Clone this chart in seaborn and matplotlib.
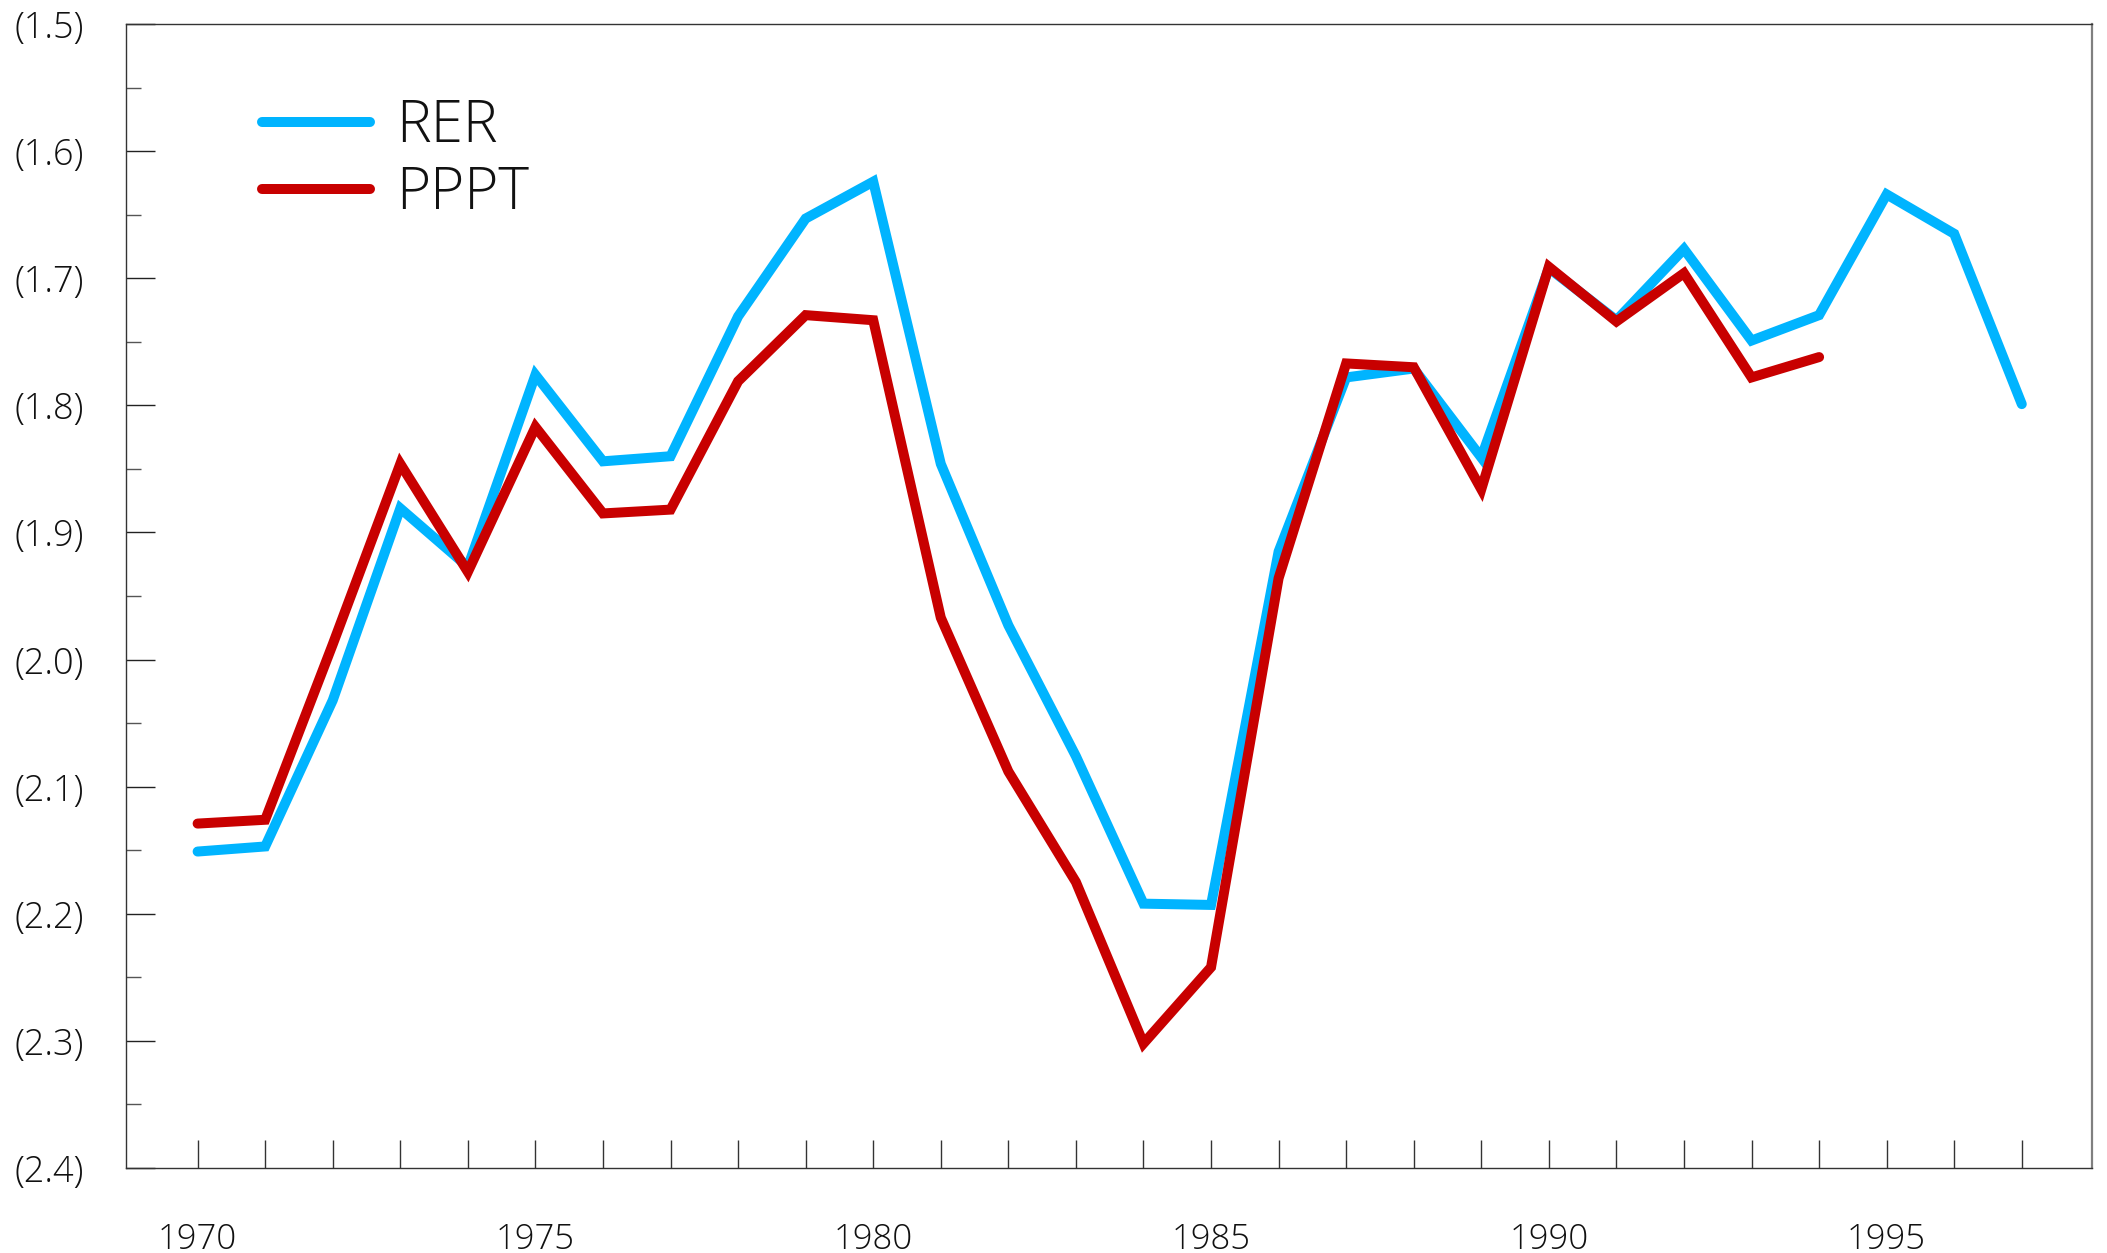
import pandas as pd
import seaborn as sns
import matplotlib.pyplot as plt
from matplotlib.ticker import FixedLocator, MultipleLocator, FuncFormatter

# data (values are negative; shown in parentheses)
years_rer = list(range(1970, 1998))
rer = [-2.151, -2.147, -2.032, -1.881, -1.927, -1.776, -1.844, -1.840, -1.730, -1.653,
       -1.624, -1.846, -1.973, -2.076, -2.192, -2.193, -1.915, -1.778, -1.771, -1.841,
       -1.692, -1.733, -1.677, -1.749, -1.729, -1.634, -1.665, -1.799]

years_pppt = list(range(1970, 1995))
pppt = [-2.129, -2.126, -1.988, -1.846, -1.931, -1.817, -1.885, -1.882, -1.781, -1.729,
        -1.733, -1.967, -2.088, -2.175, -2.302, -2.242, -1.936, -1.767, -1.770, -1.866,
        -1.691, -1.734, -1.696, -1.778, -1.762]

series_names = ["RER", "PPPT"]
series_colors = ["#00B4FF", "#C80000"]
x_ticks = list(range(1970, 1998))

df = pd.concat([
    pd.DataFrame({"year": years_rer, "value": rer, "series": "RER"}),
    pd.DataFrame({"year": years_pppt, "value": pppt, "series": "PPPT"}),
])

sns.set_style("ticks")
plt.rcParams["font.family"] = ["Open Sans", "DejaVu Sans"]
plt.rcParams["font.weight"] = "light"

fig = plt.figure(figsize=(21.07, 12.53), dpi=100)
ax = fig.add_axes([0.0598, 0.0678, 0.9331, 0.913])

sns.lineplot(data=df, x="year", y="value", hue="series", hue_order=series_names,
             palette=series_colors, linewidth=7.2, ax=ax, sort=False)
for line in ax.get_lines():
    line.set_solid_capstyle("round")
    line.set_solid_joinstyle("miter")

ax.set_xlim(1968.94, 1998.04)
ax.set_ylim(-2.4, -1.5)

ax.xaxis.set_major_locator(FixedLocator(x_ticks))
ax.xaxis.set_major_formatter(FuncFormatter(lambda v, p: f"{int(v)}" if int(round(v)) % 5 == 0 else ""))
ax.yaxis.set_major_locator(MultipleLocator(0.1))
ax.yaxis.set_minor_locator(MultipleLocator(0.05))
ax.yaxis.set_major_formatter(FuncFormatter(lambda v, p: f"({abs(v):.1f})"))

ax.tick_params(axis="x", direction="in", length=20, width=1, pad=39, labelsize=25, color="#333333")
ax.tick_params(axis="y", which="major", direction="in", length=21, width=1, pad=30, labelsize=26, color="#222222")
ax.tick_params(axis="y", which="minor", direction="in", length=11, width=1, color="#555555")
for lbl in ax.get_xticklabels() + ax.get_yticklabels():
    lbl.set_color("#111111")

for side in ["left", "bottom", "top"]:
    ax.spines[side].set_color("#333333")
    ax.spines[side].set_linewidth(1.0)
ax.spines["right"].set_color("#808080")
ax.spines["right"].set_linewidth(1.6)

ax.set_xlabel("")
ax.set_ylabel("")

leg = ax.legend(loc="upper left", bbox_to_anchor=(0.069, 0.936), frameon=False,
                prop={"size": 42, "weight": "light"},
                handlelength=1.85, handletextpad=0.45, labelspacing=0.14, borderpad=0,
                borderaxespad=0)
for t in leg.get_texts():
    t.set_color("#111111")

fig.savefig("out.png", dpi=100)
